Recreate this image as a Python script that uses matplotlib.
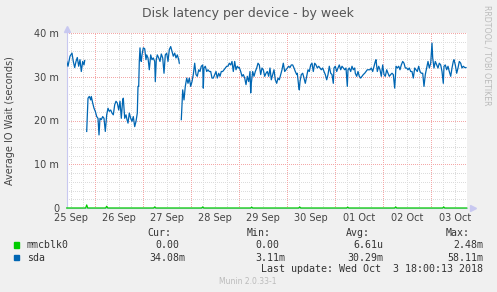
import numpy as np
import pandas as pd
import matplotlib
matplotlib.use("Agg")
import matplotlib.pyplot as plt

W, H = 497, 292

# x values are hours after 2018-09-25 10:00, y values in milliseconds
sda_hours = [0, 0.65, 1.65, 2.65, 3.3, 4.0, 4.65, 5.3, 6.0, 6.65, 7.3, 8.0, 8.65, 9.0,
             9.5,
             10.0, 10.65, 11.3, 12.0, 12.3, 13.0, 13.65, 14.3, 15.0, 15.65, 16.15, 16.65, 17.3, 18.0,
             18.65, 19.3, 20.0, 20.65, 21.3, 22.0, 22.65, 23.3, 24.0, 24.65, 25.3, 26.0, 26.65, 27.3,
             28.0, 28.3, 29.0, 29.65, 30.15, 30.65, 31.3, 32.0, 32.65, 33.3, 34.0, 34.65, 35.3, 35.65,
             36.0, 36.3, 36.65, 37.0, 37.3, 37.65, 38.3, 39.0, 39.65, 40.0, 40.65, 41.3, 42.0, 42.65,
             43.3, 44.0, 44.3, 44.8, 45.3, 46.0, 46.65, 47.3, 48.0, 48.65, 49.3, 50.0, 50.65, 51.3,
             52.0, 52.65, 53.3, 54.0, 54.65, 55.3, 56.0, 56.3,
             56.8,
             57.3, 58.0, 58.65, 59.3, 60.0, 60.65, 61.3, 62.0, 62.65, 63.3, 64.0, 64.65, 65.3, 66.0,
             66.65, 67.3, 68.0, 68.3, 68.65, 69.3, 70.0, 70.65, 71.3, 72.0, 72.65, 73.3, 74.0, 74.65,
             75.3, 76.0, 76.65, 77.3, 78.0, 78.65, 79.3, 80.0, 80.65, 81.3, 82.0, 82.65, 83.3, 84.0,
             84.65, 85.3, 86.0,
             86.3, 87.0, 87.65, 88.3, 89.0, 89.65, 90.3, 91.0, 91.65, 92.0, 92.3, 93.0, 93.65, 94.3,
             95.0, 95.65, 96.3, 97.0, 97.65, 98.3, 99.0, 99.65, 100.3, 101.0, 101.65, 102.3, 103.0,
             103.65, 104.3, 105.0, 105.65, 106.3, 107.0, 107.65, 108.3, 109.0, 109.65, 110.3, 111.0,
             111.65, 112.3, 113.0, 113.65, 114.3, 115.0,
             115.3, 116.0, 116.3, 116.65, 117.3, 118.0, 118.65, 119.3, 120.0, 120.65, 121.3, 122.0,
             122.65, 123.3, 124.0, 124.65, 125.3, 126.0, 126.65, 127.3, 128.0, 128.65, 129.3, 130.0,
             130.65, 131.3, 132.0, 132.65, 133.3, 133.65, 134.3, 135.0, 135.65, 136.3, 137.0, 137.65,
             138.3, 139.0, 139.65, 140.3, 140.65, 141.3, 142.0, 142.65, 143.3, 144.0,
             144.3, 145.0, 145.65, 146.3, 147.0, 147.65, 148.3, 149.0, 149.65, 150.3, 151.0, 151.65,
             152.3, 153.0, 153.65, 154.3, 154.65, 155.3, 156.0, 156.65, 157.3, 158.0, 158.65, 159.3,
             160.0, 160.65, 161.3, 162.0, 162.65, 163.3, 164.0, 164.65, 165.3, 166.0, 166.65, 167.3,
             168.0, 168.65, 169.3, 170.0, 170.65, 171.3, 172.0, 172.65, 173.3,
             174.0, 174.65, 175.3, 176.0, 176.65, 177.3, 178.0, 178.65, 179.3, 180.0, 180.65, 181.3,
             182.0, 182.65, 183.0, 183.65, 184.3, 185.0, 185.65, 186.3, 187.0, 187.65, 188.3, 188.65,
             189.3, 190.0, 190.65, 191.3, 192.0, 192.65, 193.3, 193.65, 194.3, 195.0, 195.65, 196.3,
             197.0, 197.65, 198.3, 199.0, 199.65]
sda_ms = [33.5, 32.4, 34.7, 35.4, 33.5, 32.1, 33.5, 34.4, 32.4, 33.9, 31.2, 33.5, 32.7, 33.7,
          np.nan,
          17.5, 25.1, 25.5, 24.7, 25.5, 24.0, 22.8, 22.1, 20.9, 20.5, 16.7, 20.5, 20.2, 20.9,
          20.5, 17.5, 21.3, 22.8, 22.1, 22.4, 21.7, 21.3, 23.6, 24.4, 24.0, 22.4, 24.4, 20.5,
          24.7, 25.1, 20.5, 21.3, 20.2, 19.4, 21.7, 20.5, 19.8, 20.9, 18.6, 19.8, 21.7, 27.8,
          27.8, 33.5, 36.6, 33.9, 33.5, 35.0, 36.6, 36.4, 33.9, 35.0, 34.3, 31.6, 35.0, 33.9,
          34.3, 33.5, 28.9, 33.9, 35.0, 34.3, 33.5, 35.2, 34.3, 30.8, 35.0, 35.4, 33.5, 36.2,
          36.9, 35.8, 34.7, 35.4, 34.3, 35.0, 33.9, 33.1,
          np.nan,
          20.2, 27.0, 24.7, 27.8, 29.7, 28.5, 29.7, 27.8, 28.9, 30.5, 33.1, 30.5, 30.1, 31.6,
          31.2, 32.4, 32.7, 27.4, 32.0, 32.4, 31.2, 31.6, 31.2, 31.2, 29.7, 29.7, 30.5, 31.2,
          29.7, 30.8, 30.1, 31.2, 31.2, 31.6, 32.0, 32.4, 32.4, 33.1, 32.7, 33.5, 31.2, 33.5,
          31.6, 32.4, 32.0,
          32.1, 31.2, 30.1, 30.5, 29.7, 28.2, 30.1, 28.9, 31.2, 26.3, 28.5, 31.2, 30.1, 31.2,
          32.0, 33.1, 32.7, 30.5, 32.0, 31.6, 30.1, 30.8, 31.2, 30.1, 32.0, 29.3, 30.5,
          31.6, 29.3, 28.5, 29.7, 29.3, 30.5, 31.6, 33.1, 31.2, 31.6, 32.0, 32.4,
          32.1, 32.7, 32.7, 32.0, 31.2, 30.5,
          30.8, 27.8, 27.0, 28.9, 30.5, 30.8, 29.7, 28.5, 30.1, 31.6, 31.2, 32.7,
          33.1, 31.2, 33.1, 32.7, 32.0, 32.4, 32.0, 31.6, 32.0, 31.2, 30.5, 29.3,
          30.5, 32.4, 30.8, 30.5, 28.5, 32.0, 32.4, 31.2, 32.0, 32.7, 31.6, 32.4,
          32.0, 31.6, 32.0, 27.8, 31.6, 32.0, 31.2, 32.4, 31.6, 32.0,
          30.8, 30.1, 31.2, 30.1, 29.7, 30.1, 30.5, 30.8, 31.2, 31.6, 31.6, 31.6,
          32.0, 31.2, 32.4, 33.5, 33.9, 31.2, 32.4, 31.6, 30.1, 32.7, 30.5, 30.1,
          31.6, 30.8, 30.1, 30.5, 30.8, 30.5, 27.4, 32.4, 32.0, 32.4, 31.6, 32.7,
          33.5, 33.1, 32.0, 32.0, 31.6, 32.0, 31.2, 31.2, 29.7,
          32.0, 31.6, 31.2, 32.4, 31.2, 30.8, 30.8, 27.8, 30.5, 32.0, 33.5, 32.0,
          33.1, 37.7, 34.3, 32.0, 33.5, 32.7, 32.0, 33.1, 32.7, 31.2, 28.5, 32.4,
          32.7, 31.6, 32.4, 31.2, 30.1, 32.0, 33.5, 33.9, 32.7, 30.8, 32.0, 33.5,
          33.1, 32.0, 32.4, 32.1, 32.1]

# mmcblk0 is flat at zero except for small spikes
mmc_spike_hours = [10, 20, 44, 68, 92.5, 116.5, 140.5, 164.5, 188.5]
mmc_spike_ms = [0.7, 0.4, 0.25, 0.25, 0.2, 0.25, 0.2, 0.25, 0.25]

day_labels = ['25 Sep', '26 Sep', '27 Sep', '28 Sep', '29 Sep', '30 Sep', '01 Oct', '02 Oct', '03 Oct']
y_ticks = [0, 10, 20, 30, 40]
y_tick_labels = ['0', '10 m', '20 m', '30 m', '40 m']

legend_names = ['mmcblk0', 'sda']
legend_colors = ['#00CC00', '#0066B3']
col_heads = ['Cur:', 'Min:', 'Avg:', 'Max:']
col_values = [['0.00', '34.08m'], ['0.00', '3.11m'], ['6.61u', '30.29m'], ['2.48m', '58.11m']]

mmc_hours = np.arange(0, 200.5, 0.5)
mmc_ms = np.zeros(len(mmc_hours))
for h, v in zip(mmc_spike_hours, mmc_spike_ms):
    mmc_ms[np.argmin(abs(mmc_hours - h))] = v

BG = '#F0F0F0'
TXT = '#333333'
fig = plt.figure(figsize=(W / 100, H / 100), dpi=100, facecolor=BG)

def fx(x):
    return x / W

def fy(y):
    return 1 - y / H

L, R, T, B = 66.7, 466.7, 33, 208
ax = fig.add_axes([fx(L), fy(B), (R - L) / W, (B - T) / H])
ax.set_facecolor('white')
ax.set_xlim(0, 200)
ax.set_ylim(0, 40)

# grid: grey every 6 h / 2 m, red at midnight / 10 m
grid_kw = dict(lw=0.72, ls=(0, (1, 2)), antialiased=False)
for h in np.arange(2, 200, 6):
    ax.axvline(h, color='#DCDCDC', zorder=1, **grid_kw)
for v in np.arange(2, 40, 2):
    ax.axhline(v, color='#DCDCDC', zorder=1, **grid_kw)
for h in np.arange(14, 200, 24):
    ax.axvline(h, color='#F4A8A8', zorder=2, **grid_kw)
for v in [10, 20, 30, 40]:
    ax.axhline(v, color='#F4A8A8', zorder=2, **grid_kw)

ax.plot(sda_hours, sda_ms, color='#0066B3', lw=0.9, zorder=4)
ax.plot(mmc_hours, mmc_ms, color='#00CC00', lw=0.9, zorder=5, clip_on=False)

for s in ['top', 'right']:
    ax.spines[s].set_visible(False)
ax.spines['left'].set_color('#C8C8F0')
ax.spines['bottom'].set_color('#C8C8F0')
ax.spines['left'].set_linewidth(0.8)
ax.spines['bottom'].set_linewidth(0.8)
ax.plot([0], [1.025], marker='^', color='#C8C8F0', ms=4, transform=ax.transAxes, clip_on=False)
ax.plot([1.015], [0], marker='>', color='#C8C8F0', ms=4, transform=ax.transAxes, clip_on=False)

ax.set_xticks(np.arange(2, 200, 24))
ax.set_xticklabels(day_labels)
ax.set_yticks(y_ticks)
ax.set_yticklabels(y_tick_labels)
ax.tick_params(length=0, labelsize=7, labelcolor='#444444')
ax.tick_params(axis='x', pad=3.5)
ax.tick_params(axis='y', pad=5.5)

fig.text(fx(248), fy(13), 'Disk latency per device - by week', ha='center', va='center',
         fontsize=9, color='#555555')
fig.text(fx(10), fy(120.5), 'Average IO Wait (seconds)', rotation=90, ha='center', va='center',
         fontsize=7, color='#444444')
fig.text(fx(487), fy(5), 'RRDTOOL / TOBI OETIKER', rotation=270, ha='center', va='top',
         fontsize=5.7, color='#BBBBBB')

# legend block
mono = 'DejaVu Sans Mono'
head_right = [171, 271, 370, 470]
val_right = [185, 285, 383, 483]
row_y = [245, 257.7]
for x, t in zip(head_right, col_heads):
    fig.text(fx(x), fy(233.3), t, ha='right', va='center', family=mono, fontsize=7.1, color=TXT)
for i, (name, c) in enumerate(zip(legend_names, legend_colors)):
    fig.patches.append(plt.Rectangle((fx(14), fy(row_y[i] + 2.7)), 5.3 / W, 5.3 / H,
                                     transform=fig.transFigure, color=c))
    fig.text(fx(26.7), fy(row_y[i]), name, ha='left', va='center', family=mono, fontsize=7.1, color=TXT)
    for x, vals in zip(val_right, col_values):
        v = vals[i]
        xr = x if v[-1].isalpha() else x - 6
        fig.text(fx(xr), fy(row_y[i]), v, ha='right', va='center', family=mono, fontsize=7.1, color=TXT)
fig.text(fx(483), fy(269.3), 'Last update: Wed Oct  3 18:00:13 2018', ha='right', va='center',
         family=mono, fontsize=7.2, color=TXT)
fig.text(fx(248), fy(281), 'Munin 2.0.33-1', ha='center', va='center', fontsize=5.5, color='#BBBBBB')

fig.savefig('out.png', dpi=100, facecolor=BG)
